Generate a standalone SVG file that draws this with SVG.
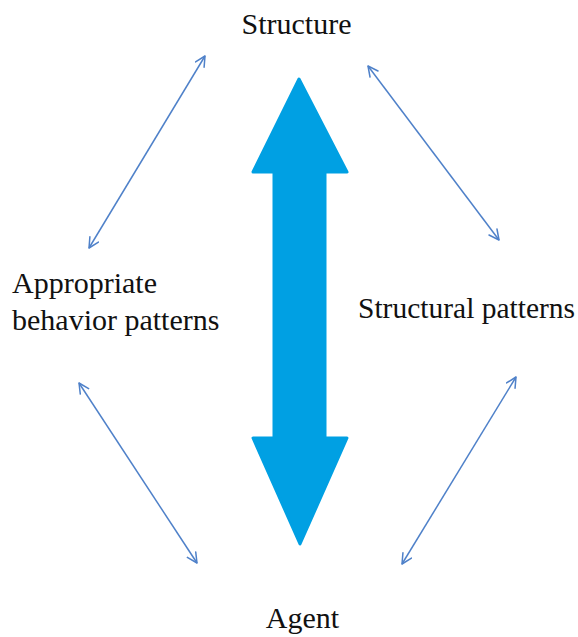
<svg xmlns="http://www.w3.org/2000/svg" width="578" height="637" viewBox="0 0 578 637">
  <style>
    .label { font-family: "Liberation Serif", "Times New Roman", serif; font-size: 30px; fill: #111; }
    .link { stroke: #4F81C9; stroke-width: 1.5; fill: none; marker-start: url(#head); marker-end: url(#head); }
    .big { fill: #00A0E3; stroke: #00A0E3; stroke-width: 3; stroke-linejoin: round; }
  </style>
  <defs>
    <marker id="head" viewBox="0 0 12 12" refX="11" refY="6" markerWidth="12" markerHeight="12" markerUnits="userSpaceOnUse" orient="auto-start-reverse">
      <path d="M1,1 L11,6 L1,11" fill="none" stroke="#4F81C9" stroke-width="1.5" stroke-linecap="round" stroke-linejoin="round"/>
    </marker>
  </defs>

  <rect width="578" height="637" fill="#ffffff"/>

  <g id="connectors">
    <line class="link" x1="89" y1="248" x2="205" y2="56"/>
    <line class="link" x1="368" y1="66" x2="499" y2="240"/>
    <line class="link" x1="79" y1="383" x2="197" y2="563"/>
    <line class="link" x1="402" y1="564" x2="516" y2="377"/>
  </g>

  <g id="structure-agent-arrow">
    <polygon class="big" points="299,79 347,172 325,172 325,438 347,438 300,544 253,438 274,438 274,172 253,172"/>
  </g>

  <g id="structure">
    <text class="label" x="296.5" y="34" text-anchor="middle">Structure</text>
  </g>
  <g id="appropriate-behavior-patterns">
    <text class="label" x="12" y="293">Appropriate</text>
    <text class="label" x="12" y="330">behavior patterns</text>
  </g>
  <g id="structural-patterns">
    <text class="label" x="358" y="318" style="font-size:29.5px">Structural patterns</text>
  </g>
  <g id="agent">
    <text class="label" x="302.5" y="628" text-anchor="middle">Agent</text>
  </g>
</svg>
